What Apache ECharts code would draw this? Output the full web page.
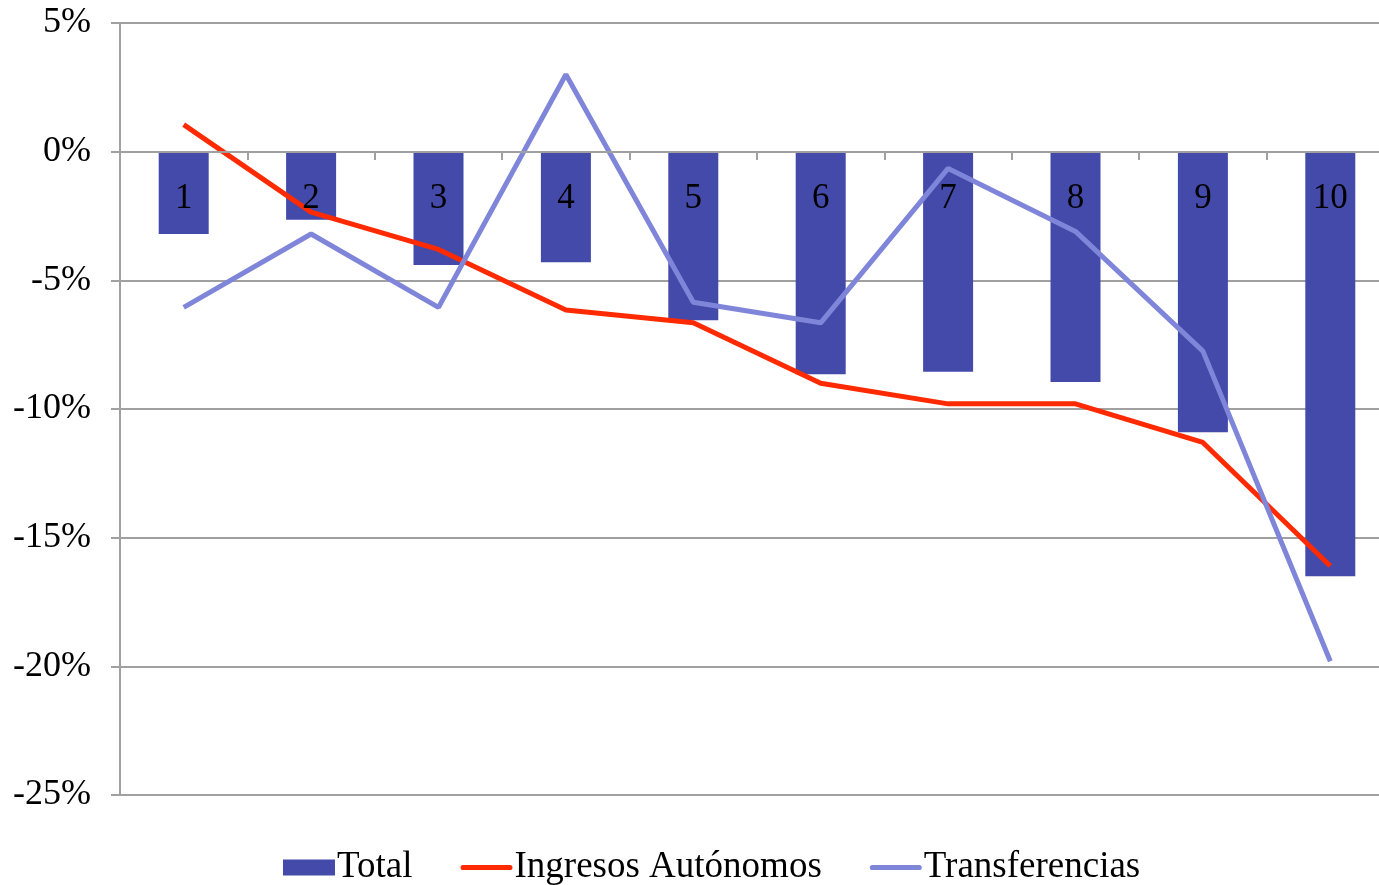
<!DOCTYPE html>
<html><head><meta charset="utf-8">
<script src="https://cdn.jsdelivr.net/npm/echarts@6/dist/echarts.min.js"></script>
<style>html,body{margin:0;padding:0;background:#fff}#c{width:1379px;height:885px}</style>
</head><body><div id="c"></div>
<script>
const categories = ['1','2','3','4','5','6','7','8','9','10'];
const total = [-3.2, -2.65, -4.4, -4.3, -6.55, -8.65, -8.55, -8.95, -10.9, -16.5];
const ingresosAutonomos = [1.05, -2.35, -3.8, -6.15, -6.65, -9.0, -9.8, -9.8, -11.3, -16.1];
const transferencias = [-6.05, -3.2, -6.05, 3.0, -5.85, -6.65, -0.65, -3.1, -7.75, -19.8];
const yTicks = {min: -25, max: 5, interval: 5};

const FONT = '"Liberation Serif", "Times New Roman", serif';
const LINE_ICON = 'path://M2,0 L48,0 A2.5,2.5 0 0 1 48,5 L2,5 A2.5,2.5 0 0 1 2,0 Z';
const chart = echarts.init(document.getElementById('c'));
chart.setOption({
  animation: false,
  grid: {left: 120, top: 23, right: -15, bottom: 90, containLabel: false, outerBoundsMode: 'none'},
  legend: {
    bottom: -6, left: 278, itemWidth: 52, itemHeight: 16, itemGap: 48,
    textStyle: {fontFamily: FONT, fontSize: 37, color: '#000', padding: [0,0,0,-3]},
    data: [{name: 'Total', icon: 'rect'},
           {name: 'Ingresos Autónomos', icon: LINE_ICON},
           {name: 'Transferencias', icon: LINE_ICON}]
  },
  xAxis: {
    type: 'category', data: categories, z: 10,
    offset: -643,
    axisLine: {onZero: false, lineStyle: {color: '#a0a0a0', width: 2}},
    axisTick: {show: true, length: 8, lineStyle: {color: '#a0a0a0', width: 2}},
    axisLabel: {fontFamily: FONT, fontSize: 35, color: '#000', margin: 29}
  },
  yAxis: {
    type: 'value', min: yTicks.min, max: yTicks.max, interval: yTicks.interval,
    axisLine: {show: true, lineStyle: {color: '#a0a0a0', width: 2}},
    axisTick: {show: true, length: 9, lineStyle: {color: '#a0a0a0', width: 2}},
    splitLine: {lineStyle: {color: '#a0a0a0', width: 2}},
    axisLabel: {fontFamily: FONT, fontSize: 36, color: '#000', margin: 29, formatter: '{value}%'}
  },
  series: [
    {name: 'Total', type: 'bar', data: total, barWidth: 50, itemStyle: {color: '#434aa9'}},
    {name: 'Ingresos Autónomos', type: 'line', data: ingresosAutonomos, symbol: 'none', z: 5,
     lineStyle: {color: '#ff2a00', width: 5}, itemStyle: {color: '#ff2a00'}},
    {name: 'Transferencias', type: 'line', data: transferencias, symbol: 'none', z: 5,
     lineStyle: {color: '#7f86d9', width: 5}, itemStyle: {color: '#7f86d9'}}
  ]
});
</script></body></html>
